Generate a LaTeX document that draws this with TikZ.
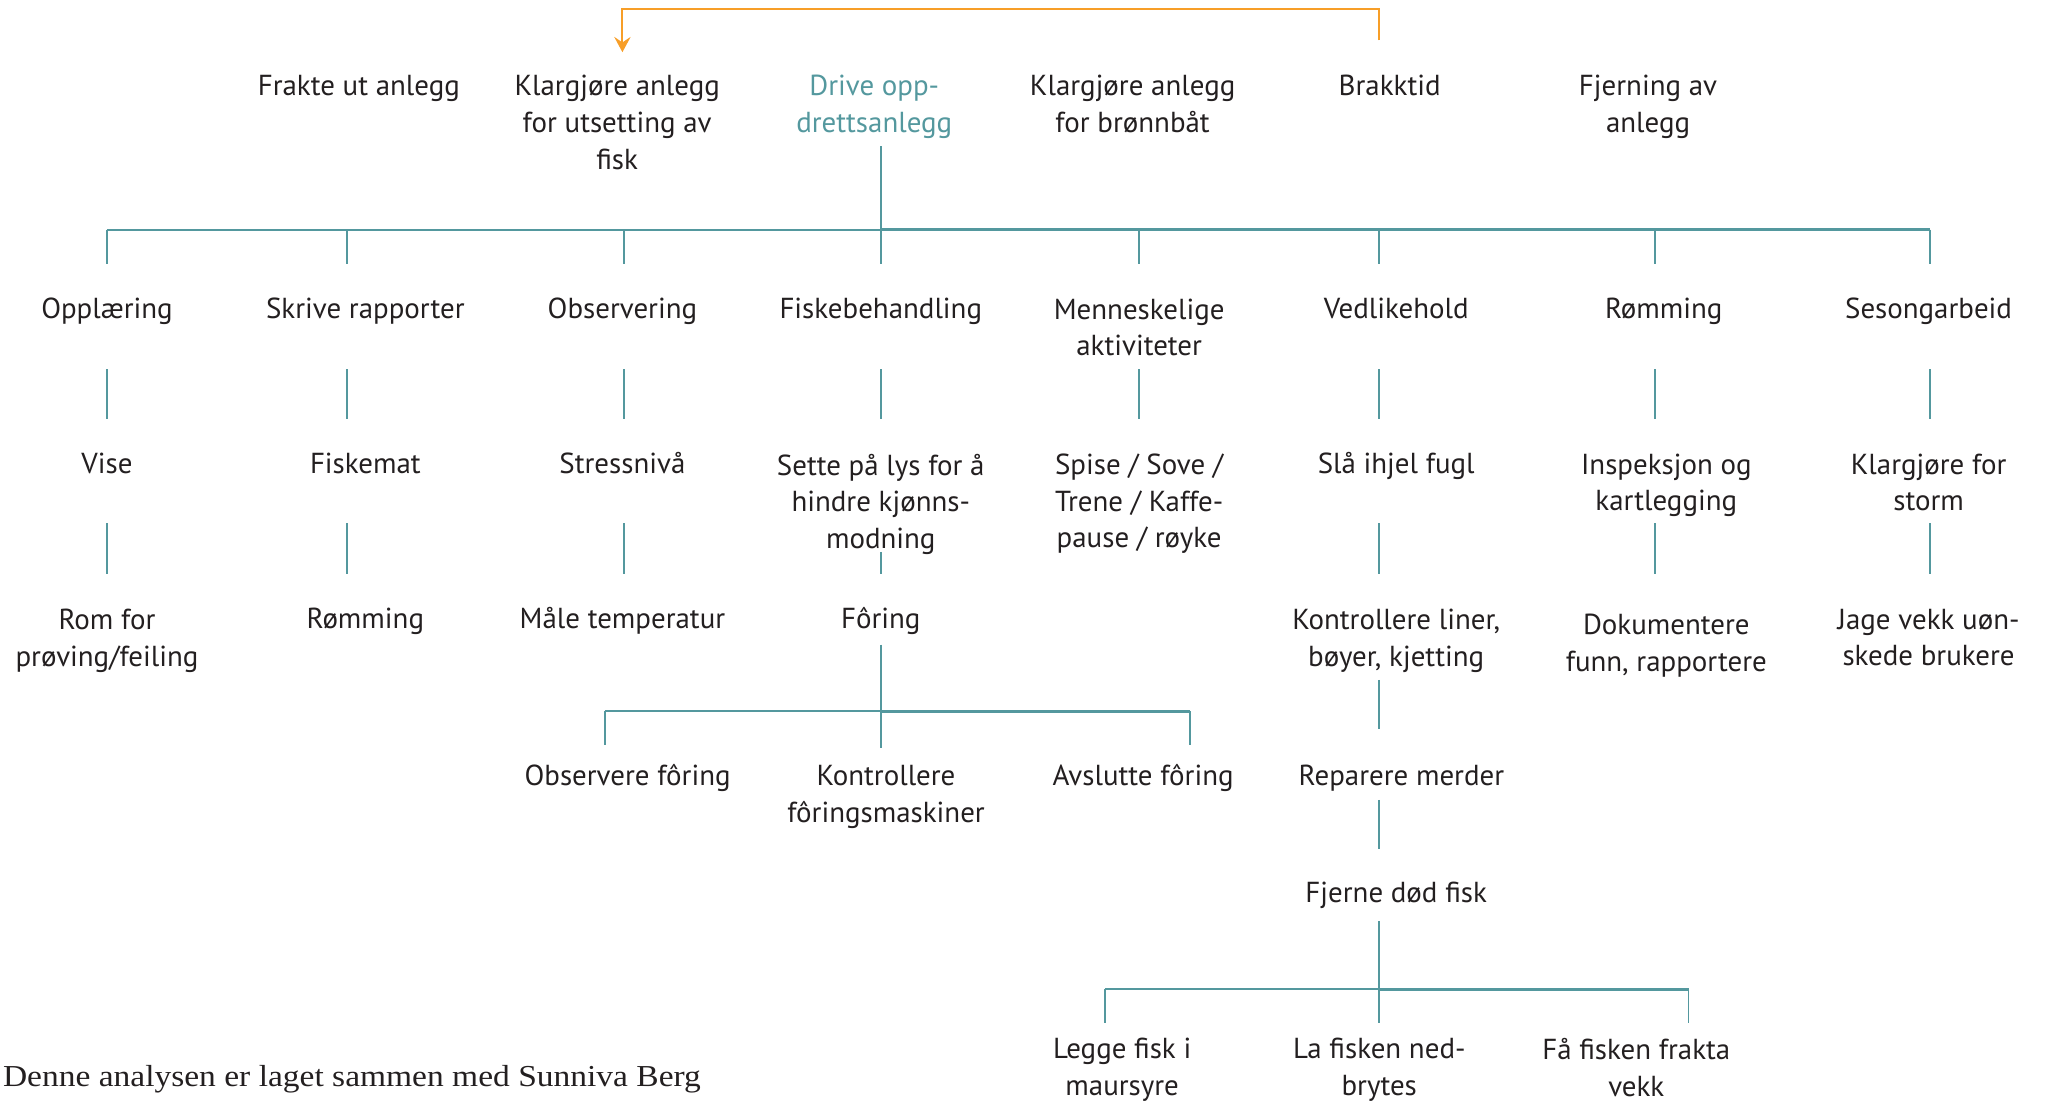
\documentclass[tikz,border=0pt]{standalone}
\usepackage{fontspec}
\setmainfont{PT Sans}
\newfontfamily\footfont[FakeStretch=1.1]{Liberation Serif}
\usetikzlibrary{arrows.meta, positioning}
\definecolor{tealline}{RGB}{84,152,158}
\definecolor{orng}{RGB}{247,158,40}
\definecolor{txt}{RGB}{35,31,32}
\newcommand\lblfont{\fontsize{13.3}{16.8}\selectfont}

\begin{document}
\begin{tikzpicture}[
                x=0.6pt, y=-0.6pt,
                >={Stealth[length=7pt, width=7.5pt, inset=2.5pt]},
                lbl/.style={
                    anchor=north,
                    inner sep=0pt,
                    align=center,
                    text=txt,
                    font=\lblfont,
                    yshift=-0.6pt,
                    execute at begin node=\strut
                },
                ml/.style={
                    lbl,
                    yshift=-2.7pt
                },
                link/.style={
                    draw=tealline,
                    line width=0.9pt
                },
                bus/.style={
                    draw=tealline,
                    line width=1.4pt
                },
                back/.style={
                    ->,
                    draw=orng,
                    line width=0.9pt
                }
            ]
                \useasboundingbox (0,0) rectangle (1568,844);

                % phases
                \node[lbl] (frakte) at (275,52) {Frakte ut anlegg};
                \node[ml] (utsett) at (473,52) {Klargjøre anlegg\\for utsetting av\\fisk};
                \node[ml, text=tealline] (drive) at (670,52) {Drive opp-\\drettsanlegg};
                \node[ml] (bronn) at (868,52) {Klargjøre anlegg\\for brønnbåt};
                \node[lbl] (brakk) at (1065,52) {Brakktid};
                \node[ml] (fjern) at (1263,52) {Fjerning av\\anlegg};

                % tasks
                \node[lbl] (opp) at (82,223) {Opplæring};
                \node[lbl] (skriv) at (280,223) {Skrive rapporter};
                \node[lbl] (obs) at (477,223) {Observering};
                \node[lbl] (fiskb) at (675,223) {Fiskebehandling};
                \node[ml] (menn) at (873,223) {Menneskelige\\aktiviteter};
                \node[lbl] (vedl) at (1070,223) {Vedlikehold};
                \node[lbl] (romm) at (1275,223) {Rømming};
                \node[lbl] (seson) at (1478,223) {Sesongarbeid};

                \node[lbl] (vise) at (82,342) {Vise};
                \node[lbl] (mat) at (280,342) {Fiskemat};
                \node[lbl] (stress) at (477,342) {Stressnivå};
                \node[ml] (lys) at (675,342) {Sette på lys for å\\hindre kjønns-\\modning};
                \node[ml] (spise) at (873,342) {Spise / Sove /\\Trene / Kaffe-\\pause / røyke};
                \node[lbl] (fugl) at (1070,342) {Slå ihjel fugl};
                \node[ml] (insp) at (1277,342) {Inspeksjon og\\kartlegging};
                \node[ml] (storm) at (1478,342) {Klargjøre for\\storm};

                \node[ml] (prov) at (82,461) {Rom for\\prøving/feiling};
                \node[lbl] (romm2) at (280,461) {Rømming};
                \node[lbl] (temp) at (477,461) {Måle temperatur};
                \node[lbl] (foring) at (675,461) {Fôring};
                \node[ml] (liner) at (1070,461) {Kontrollere liner,\\bøyer, kjetting};
                \node[ml] (dok) at (1277,465) {Dokumentere\\funn, rapportere};
                \node[ml] (jage) at (1478,461) {Jage vekk uøn-\\skede brukere};

                \node[lbl] (obsf) at (481,581) {Observere fôring};
                \node[ml] (kontf) at (679,581) {Kontrollere\\fôringsmaskiner};
                \node[lbl] (avsl) at (876,581) {Avslutte fôring};
                \node[lbl] (repar) at (1074,581) {Reparere merder};
                \node[lbl] (dod) at (1070,671) {Fjerne død fisk};

                \node[ml] (maur) at (860,790) {Legge fisk i\\maursyre};
                \node[ml] (nedbr) at (1057,790) {La fisken ned-\\brytes};
                \node[ml] (frakta) at (1254,790) {Få fisken frakta\\vekk};

                \node[anchor=base west, inner sep=0pt, text=txt, font=\footfont\fontsize{14}{16}\selectfont] (credit) at (2,833) {Denne analysen er laget sammen med Sunniva Berg};

                % columns and rows of the tree
                \foreach \n/\x in {k1/82, k2/266, k3/478, k4/675, k5/873, k6/1057, k7/1268, k8/1479, f1/464, f3/912, d1/847, d3/1294}
                    \coordinate (\n) at (\x,0);
                \foreach \n/\y in {top/112, busY/176, dropY/202, a1/283, a2/321, b1/401, b2/440, lysB/423,
                                   forA/494, forBus/545, forDrop/571, forB/573,
                                   v1/521, v2/559, v3/613, v4/651, v5/706, dodBus/758, dodDrop/784}
                    \coordinate (\n) at (0,\y);

                % back to start
                \coordinate (brakkTop) at (1057,31);
                \coordinate (utsettTop) at (477,40);
                \draw[back] (brakkTop) -- (1057,7) -| (utsettTop);

                \draw[link] (k4 |- top) -- (k4 |- busY);
                \draw[link] (k1 |- busY) -- (k4 |- busY);
                \draw[bus] (k4 |- busY) -- (k8 |- busY);
                \foreach \k in {k1,k2,k3,k4,k5,k6,k7,k8}
                    \draw[link] (\k |- busY) -- (\k |- dropY);
                \foreach \k in {k1,k2,k3,k4,k5,k6,k7,k8}
                    \draw[link] (\k |- a1) -- (\k |- a2);
                \foreach \k in {k1,k2,k3,k6,k7,k8}
                    \draw[link] (\k |- b1) -- (\k |- b2);
                \draw[link] (k4 |- lysB) -- (k4 |- b2);

                % feeding
                \draw[link] (k4 |- forA) -- (k4 |- forB);
                \draw[link] (f1 |- forBus) -- (k4 |- forBus);
                \draw[bus] (k4 |- forBus) -- (f3 |- forBus);
                \draw[link] (f1 |- forBus) -- (f1 |- forDrop);
                \draw[link] (f3 |- forBus) -- (f3 |- forDrop);

                % maintenance
                \draw[link] (k6 |- v1) -- (k6 |- v2);
                \draw[link] (k6 |- v3) -- (k6 |- v4);
                \draw[link] (k6 |- v5) -- (k6 |- dodDrop);
                \draw[link] (d1 |- dodBus) -- (k6 |- dodBus);
                \draw[bus] (k6 |- dodBus) -- (d3 |- dodBus);
                \draw[link] (d1 |- dodBus) -- (d1 |- dodDrop);
                \draw[link] (d3 |- dodBus) -- (d3 |- dodDrop);
            \end{tikzpicture}
\end{document}
